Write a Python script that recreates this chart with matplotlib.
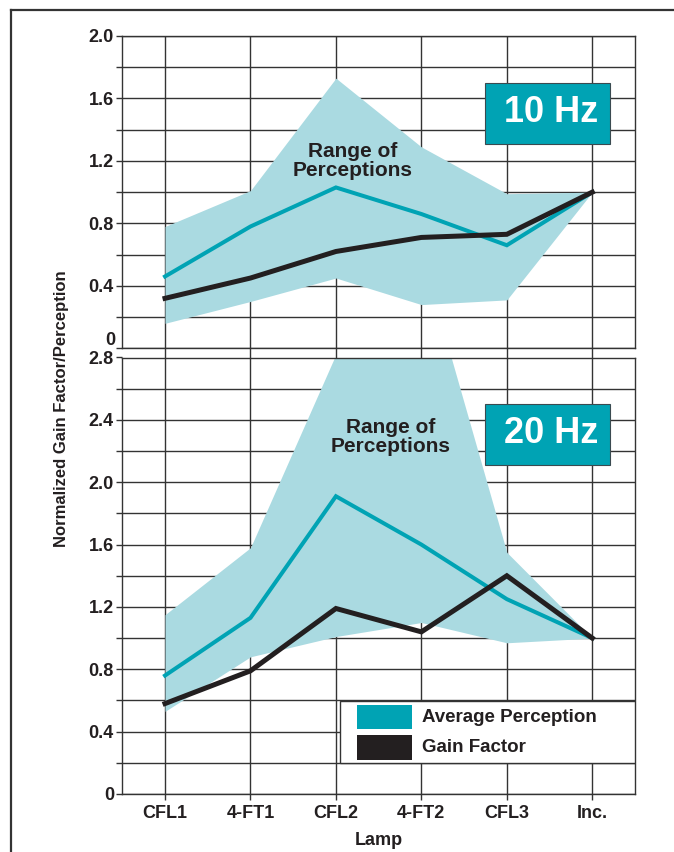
import matplotlib
matplotlib.use("Agg")
import matplotlib.pyplot as plt
from matplotlib.patches import Rectangle
from matplotlib.lines import Line2D
from matplotlib.ticker import MultipleLocator, FuncFormatter

plt.rcParams['font.family'] = ['Liberation Sans', 'DejaVu Sans']
plt.rcParams['font.weight'] = 'bold'

lamps = ['CFL1', '4-FT1', 'CFL2', '4-FT2', 'CFL3', 'Inc.']

avg_10 = [0.46, 0.78, 1.03, 0.86, 0.66, 1.00]
gain_10 = [0.32, 0.45, 0.62, 0.71, 0.73, 1.00]
range_hi_10 = [0.78, 1.01, 1.73, 1.29, 0.99, 1.00]
range_lo_10 = [0.16, 0.30, 0.45, 0.28, 0.31, 1.00]

avg_20 = [0.76, 1.13, 1.91, 1.60, 1.25, 1.00]
gain_20 = [0.58, 0.79, 1.19, 1.04, 1.40, 1.00]
range_hi_20 = [1.15, 1.58, 2.82, 3.47, 1.55, 1.00]
range_lo_20 = [0.53, 0.88, 1.01, 1.10, 0.97, 1.00]

TEAL = '#00A3B4'
FILL = '#AADAE1'
DARK = '#231F20'
GRID = '#333333'

W, H = 674, 852
fig = plt.figure(figsize=(W / 100, H / 100), dpi=100)

def fx(px):
    return px / W

def fy(py):
    return 1 - py / H

left, right = 122.3, 635
ax1 = fig.add_axes([fx(left), fy(348.3), fx(right) - fx(left), fy(36) - fy(348.3)])
ax2 = fig.add_axes([fx(left), fy(794), fx(right) - fx(left), fy(357.5) - fy(794)])

x = list(range(len(lamps)))

def fmt(v, pos):
    return '0' if abs(v) < 1e-9 else f'{v:.1f}'

def fmt_top(v, pos):
    # the top panel's zero label is placed separately, raised clear of "2.8"
    return '' if abs(v) < 1e-9 else f'{v:.1f}'

panels = [
    (ax1, avg_10, gain_10, range_hi_10, range_lo_10, 2.0, '10 Hz',
     (0.7065, 0.6548, 0.2438, 0.1932), (0.836, 0.7535), (0.45, 0.60), fmt_top),
    (ax2, avg_20, gain_20, range_hi_20, range_lo_20, 2.8, '20 Hz',
     (0.7065, 0.7537, 0.2438, 0.1403), (0.836, 0.825), (0.5235, 0.818), fmt),
]

for ax, avg, gain, hi, lo, ymax, label, box, tpos, rpos, f in panels:
    ax.set_xlim(-0.5, 5.5)
    ax.set_ylim(0, ymax)
    ax.set_axisbelow(True)
    ax.yaxis.set_major_locator(MultipleLocator(0.4))
    ax.yaxis.set_minor_locator(MultipleLocator(0.2))
    ax.yaxis.set_major_formatter(FuncFormatter(f))
    ax.set_xticks(x)
    ax.grid(True, which='both', axis='y', color=GRID, lw=1.0)
    ax.grid(True, which='major', axis='x', color=GRID, lw=1.0)
    for s in ax.spines.values():
        s.set_color(GRID)
        s.set_linewidth(1.0)
    ax.tick_params(axis='y', which='both', length=4, width=1.0, color=GRID,
                   labelsize=13, pad=2, labelcolor=DARK)
    ax.fill_between(x, lo, hi, color=FILL, lw=0, zorder=1)
    ax.plot(x, avg, color=TEAL, lw=2.9, zorder=3, solid_joinstyle='miter')
    ax.plot(x, gain, color=DARK, lw=3.6, zorder=4, solid_joinstyle='miter')
    ax.add_patch(Rectangle((box[0], box[1]), box[2], box[3], transform=ax.transAxes,
                           facecolor=TEAL, edgecolor='#3a4a50', lw=0.8, zorder=5))
    ax.text(tpos[0], tpos[1], label, transform=ax.transAxes, color='white',
            fontsize=26, fontweight='bold', ha='center', va='center', zorder=6)
    ax.text(rpos[0], rpos[1], 'Range of\nPerceptions', transform=ax.transAxes,
            color=DARK, fontsize=15, fontweight='bold', ha='center', va='center',
            linespacing=1.0, zorder=2)

ax1.annotate('0', xy=(0, 0), xycoords=('axes fraction', 'data'),
             xytext=(-4.9, -0.5), textcoords='offset points', ha='right', va='bottom',
             fontsize=13, fontweight='bold', color=DARK, annotation_clip=False)

ax1.tick_params(axis='x', length=7.3, width=1.0, color=GRID, labelbottom=False)
ax2.tick_params(axis='x', length=4, width=1.0, color=GRID, labelsize=13,
                labelcolor=DARK, pad=4)
ax2.set_xticklabels(lamps)
ax2.set_xlabel('Lamp', fontsize=13, fontweight='bold', color=DARK, labelpad=7)

# legend drawn inside lower panel
ax2.add_patch(Rectangle((0.4246, 0.0717), 0.5754, 0.142, transform=ax2.transAxes,
                        facecolor='white', edgecolor=GRID, lw=1.0, zorder=7))
ax2.add_patch(Rectangle((0.4578, 0.1489), 0.1067, 0.055, transform=ax2.transAxes,
                        facecolor=TEAL, edgecolor='none', zorder=8))
ax2.add_patch(Rectangle((0.4578, 0.0786), 0.1067, 0.0566, transform=ax2.transAxes,
                        facecolor=DARK, edgecolor='none', zorder=8))
ax2.text(0.5846, 0.1748, 'Average Perception', transform=ax2.transAxes, fontsize=13.5,
         fontweight='bold', color=DARK, ha='left', va='center', zorder=9)
ax2.text(0.5846, 0.106, 'Gain Factor', transform=ax2.transAxes, fontsize=13.5,
         fontweight='bold', color=DARK, ha='left', va='center', zorder=9)

fig.text(fx(61.7), fy(409), 'Normalized Gain Factor/Perception', rotation=90,
         fontsize=12, fontweight='bold', color=DARK, ha='center', va='center')

# page frame
fig.add_artist(Line2D([fx(10.5), 1.0], [fy(10), fy(10)], color='#333333', lw=1.6,
                      transform=fig.transFigure))
fig.add_artist(Line2D([fx(10.5), fx(10.5)], [fy(10), 0.0], color='#333333', lw=1.6,
                      transform=fig.transFigure))

fig.savefig('out.png', dpi=100)
